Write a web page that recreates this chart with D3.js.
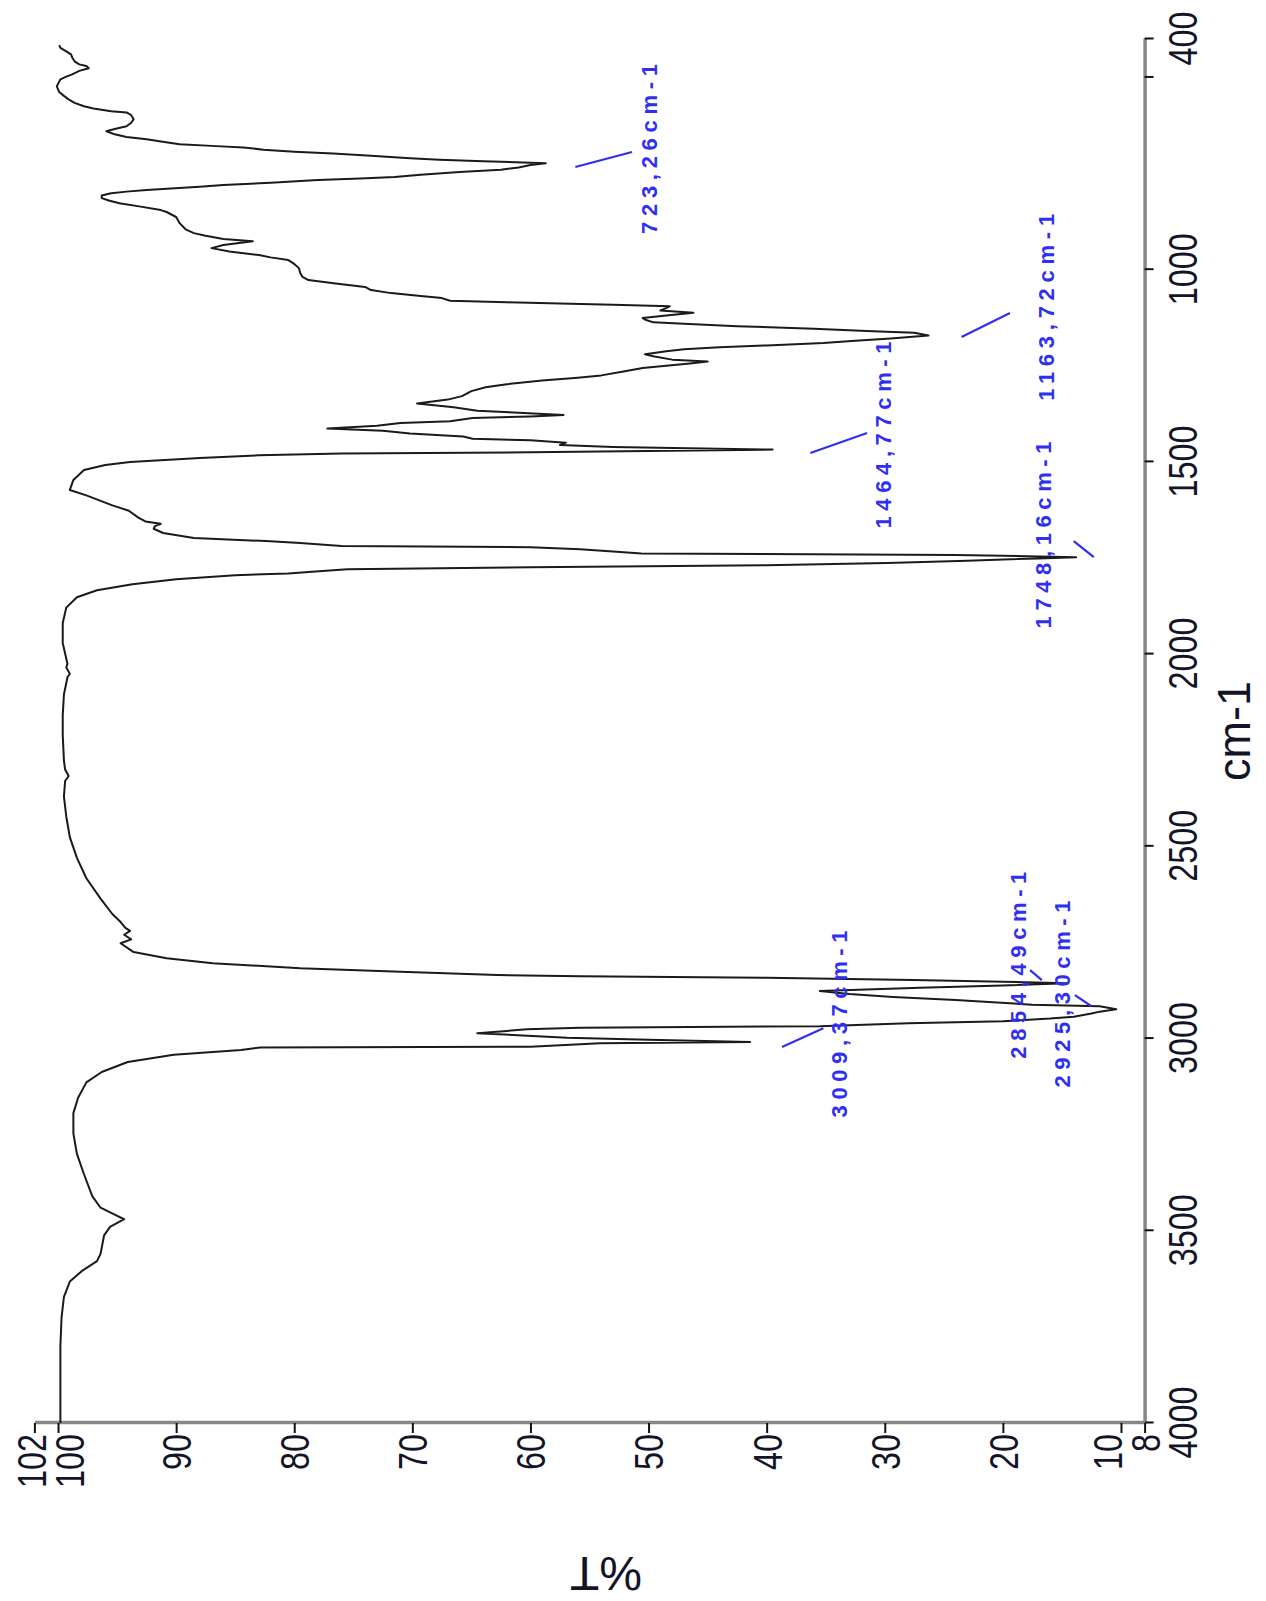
<!DOCTYPE html>
<html>
<head>
<meta charset="utf-8">
<script src="https://cdn.jsdelivr.net/npm/d3@7"></script>
<style>
  body { margin: 0; background: #fff; }
  svg { display: block; background: #fff; }
</style>
</head>
<body>
<svg id="chart" width="1266" height="1601"></svg>
<script>
// IR spectrum (wavenumber in cm-1, transmittance in %T)
const wavenumber = [
  4000, 3900, 3800, 3725, 3672, 3632, 3605, 3579, 3560, 3544, 3512, 3490, 3470, 3458, 3440, 3410,
  3353, 3300, 3247, 3194, 3154, 3114, 3087, 3061, 3042, 3030, 3023, 3021, 3012, 3009, 3003, 2998,
  2986, 2976, 2972, 2968, 2960, 2955, 2948, 2943, 2935, 2930, 2924, 2916, 2912, 2900, 2892, 2884,
  2876, 2868, 2862, 2856, 2852, 2848, 2842, 2838, 2835, 2826, 2817, 2804, 2791, 2775, 2752, 2742,
  2730, 2720, 2712, 2697, 2676, 2636, 2583, 2530, 2476, 2423, 2370, 2330, 2317, 2300, 2277, 2211,
  2158, 2105, 2060, 2051, 2035, 2025, 1972, 1919, 1879, 1852, 1834, 1818, 1805, 1795, 1790, 1786,
  1779, 1774, 1769, 1763, 1757, 1751, 1748, 1742, 1738, 1733, 1727, 1722, 1719, 1711, 1706, 1698,
  1685, 1674, 1667, 1661, 1655, 1645, 1627, 1613, 1587, 1573, 1547, 1521, 1508, 1500, 1490, 1483,
  1478, 1475, 1468, 1461, 1456, 1450, 1444, 1440, 1434, 1426, 1419, 1413, 1406, 1399, 1394, 1386,
  1382, 1378, 1372, 1367, 1358, 1348, 1338, 1329, 1316, 1306, 1298, 1288, 1281, 1275, 1264, 1256,
  1250, 1244, 1239, 1234, 1226, 1220, 1212, 1207, 1202, 1197, 1191, 1185, 1179, 1171, 1164, 1160,
  1154, 1147, 1141, 1137, 1131, 1126, 1119, 1112, 1106, 1100, 1095, 1091, 1088, 1085, 1081, 1074,
  1068, 1061, 1053, 1045, 1036, 1027, 1019, 1008, 996, 985, 975, 968, 962, 953, 944, 936,
  930, 926, 920, 912, 905, 895, 879, 863, 850, 845, 836, 827, 820, 814, 807, 801,
  797, 793, 788, 784, 780, 774, 767, 763, 759, 753, 746, 740, 734, 728, 723, 718,
  714, 710, 704, 698, 693, 688, 682, 678, 674, 668, 661, 655, 648, 640, 634, 627,
  618, 609, 598, 591, 588, 581, 575, 566, 557, 548, 538, 523, 505, 498, 492, 483,
  476, 470, 466, 458, 448, 440, 432, 423, 416
];
const transmittance = [
  99.8, 99.8, 99.8, 99.7, 99.5, 99.0, 98.0, 96.7, 96.4, 96.3, 96.1, 95.6, 94.4, 95.2, 96.4, 97.1,
  97.8, 98.4, 98.7, 98.7, 98.3, 97.6, 96.3, 94.1, 90.2, 84.5, 82.9, 60.0, 54.1, 41.4, 50.0, 56.9,
  64.5, 60.3, 55.8, 35.5, 28.0, 20.0, 16.0, 14.0, 12.5, 11.8, 10.4, 11.8, 17.5, 24.0, 29.3, 33.0,
  35.5, 27.0, 20.0, 14.6, 20.0, 27.6, 40.0, 55.8, 62.8, 71.0, 79.5, 86.9, 90.8, 93.6, 94.7, 93.8,
  94.4, 93.9, 94.3, 94.7, 95.4, 96.4, 97.6, 98.4, 99.0, 99.3, 99.5, 99.4, 99.1, 99.4, 99.5, 99.6,
  99.6, 99.5, 99.2, 99.0, 99.3, 99.2, 99.6, 99.6, 99.3, 98.4, 96.7, 93.7, 90.0, 85.0, 80.5, 78.5,
  75.5, 60.0, 40.0, 29.8, 23.0, 17.0, 13.8, 24.0, 50.6, 53.0, 55.8, 60.0, 76.0, 79.5, 82.4, 88.5,
  91.1, 91.9, 91.8, 91.3, 92.6, 93.2, 94.0, 95.4, 97.6, 99.0, 98.7, 97.8, 96.0, 93.9, 88.0, 83.0,
  76.0, 60.0, 39.5, 53.0, 57.5, 57.0, 60.0, 64.9, 65.7, 70.2, 72.5, 77.2, 73.0, 71.0, 66.8, 64.9,
  60.0, 57.2, 61.0, 64.5, 66.5, 69.6, 67.0, 65.8, 65.0, 63.8, 62.0, 59.0, 56.0, 54.0, 52.0, 50.5,
  48.5, 46.5, 45.0, 48.0, 49.5, 50.3, 48.5, 47.0, 44.0, 40.0, 35.2, 32.5, 29.5, 26.3, 27.5, 31.0,
  36.0, 42.5, 47.0, 49.6, 50.2, 50.5, 48.5, 46.2, 49.0, 48.5, 48.2, 53.0, 57.5, 62.0, 66.8, 67.5,
  69.5, 71.8, 73.5, 74.0, 76.5, 78.8, 79.3, 79.5, 79.6, 80.0, 80.5, 82.0, 83.0, 85.5, 87.0, 86.0,
  84.5, 83.5, 86.0, 87.5, 88.5, 89.2, 89.7, 90.0, 90.8, 91.3, 93.0, 94.8, 95.7, 96.3, 96.3, 95.5,
  94.2, 92.5, 90.1, 88.0, 86.0, 82.0, 78.0, 74.4, 71.5, 69.3, 66.0, 62.5, 61.0, 60.0, 58.7, 64.0,
  67.7, 70.2, 73.5, 76.7, 80.0, 82.6, 84.3, 87.0, 89.7, 91.0, 92.5, 94.2, 95.2, 95.9, 95.2, 94.2,
  93.8, 93.6, 93.8, 94.2, 95.5, 97.0, 97.8, 98.6, 99.1, 99.5, 99.9, 100.1, 99.8, 99.3, 98.8, 98.2,
  97.4, 97.6, 98.2, 98.6, 98.8, 98.9, 99.3, 99.8, 99.9
];

// axes
const wnTicks = [4000, 3500, 3000, 2500, 2000, 1500, 1000, 500, 400];
const wnTickLabels = ["4000", "3500", "3000", "2500", "2000", "1500", "1000", "", "400"];
const tTicks = [102, 100, 90, 80, 70, 60, 50, 40, 30, 20, 10, 8];

// peak labels (label centre along wavenumber, label baseline in %T, leader ends)
const peakText = ["723,26cm-1", "1163,72cm-1", "1464,77cm-1", "1748,16cm-1", "2854,49cm-1", "2925,30cm-1", "3009,37cm-1"];
const peakTextWn = [686, 1098, 1430, 1690, 2809, 2884, 2962];
const peakTextT = [49.3, 15.7, 29.5, 15.9, 18.0, 14.3, 33.2];
const leaderStart = [[733, 56.2], [1175, 23.5], [1477, 36.3], [1706, 14.0], [2822, 17.7], [2887, 13.9], [3022, 38.7]];
const leaderEnd = [[694, 51.4], [1113, 19.4], [1425, 31.5], [1748, 12.3], [2848, 16.7], [2916, 12.5], [2973, 35.2]];

const spectrum = wavenumber.map((w, i) => [w, transmittance[i]]);

const svg = d3.select("#chart");
const W = 1601, H = 1266;   // unrotated frame: wavenumber runs along W, %T along H

// the whole plot is drawn turned a quarter turn anticlockwise
const plot = svg.append("g")
  .attr("transform", `translate(0,${W}) rotate(-90)`);

const x = d3.scaleLinear().domain([4000, 400]).range([178, 1562]);
const y = d3.scaleLinear().domain([102, 8]).range([34.4, 1144.6]);

const labelFont = "'Liberation Sans', Arial, Helvetica, sans-serif";

// wavenumber axis
const xAxis = plot.append("g")
  .attr("transform", `translate(0,${y(8)})`)
  .call(d3.axisBottom(x)
    .tickValues(wnTicks)
    .tickSize(9)
    .tickSizeOuter(0)
    .tickFormat((d, i) => wnTickLabels[i]));

// %T axis
const tNudge = { 102: -3, 100: 11, 10: -14 };
const yAxis = plot.append("g")
  .attr("transform", `translate(${x(4000)},0)`)
  .call(d3.axisLeft(y)
    .tickValues(tTicks)
    .tickSize(10)
    .tickSizeOuter(0)
    .tickFormat(d3.format("d")));

[xAxis, yAxis].forEach(g => {
  g.select(".domain").attr("stroke", "#878787").attr("stroke-width", 3.5);
  g.selectAll(".tick line").attr("stroke", "#111").attr("stroke-width", 2);
  g.selectAll(".tick text")
    .attr("fill", "#141428")
    .style("font-family", labelFont)
    .style("font-size", "40px")
    .attr("lengthAdjust", "spacingAndGlyphs")
    .attr("textLength", function () { return this.textContent.length * 18; });
});

xAxis.selectAll(".tick text").attr("y", 52).attr("dy", null);
yAxis.selectAll(".tick text")
  .attr("x", -11)
  .attr("dy", "0.36em")
  .attr("y", d => tNudge[d] || 0);

// axis titles
plot.append("text")
  .attr("x", x(2200))
  .attr("y", 1250)
  .attr("text-anchor", "middle")
  .attr("textLength", 100)
  .attr("lengthAdjust", "spacingAndGlyphs")
  .style("font-family", labelFont)
  .style("font-size", "46px")
  .attr("fill", "#141428")
  .text("cm-1");

plot.append("text")
  .attr("transform", `translate(44,${y(53.6)}) rotate(-90)`)
  .attr("text-anchor", "middle")
  .style("font-family", labelFont)
  .style("font-size", "48px")
  .attr("fill", "#141428")
  .text("%T");

// spectrum
const line = d3.line()
  .x(d => x(d[0]))
  .y(d => y(d[1]));

plot.append("path")
  .datum(spectrum)
  .attr("fill", "none")
  .attr("stroke", "#1a1a1a")
  .attr("stroke-width", 2)
  .attr("stroke-linejoin", "round")
  .attr("d", line);

// peak annotations
const blue = "#2f2ff2";
const ann = plot.append("g");

ann.selectAll("line")
  .data(peakText)
  .join("line")
  .attr("x1", (d, i) => x(leaderStart[i][0]))
  .attr("y1", (d, i) => y(leaderStart[i][1]))
  .attr("x2", (d, i) => x(leaderEnd[i][0]))
  .attr("y2", (d, i) => y(leaderEnd[i][1]))
  .attr("stroke", blue)
  .attr("stroke-width", 2.2);

ann.selectAll("text")
  .data(peakText)
  .join("text")
  .attr("x", (d, i) => x(peakTextWn[i]))
  .attr("y", (d, i) => y(peakTextT[i]))
  .attr("text-anchor", "middle")
  .attr("textLength", d => d.length * 17)
  .attr("lengthAdjust", "spacing")
  .style("font-family", labelFont)
  .style("font-size", "22px")
  .style("font-weight", "bold")
  .attr("fill", blue)
  .text(d => d);
</script>
</body>
</html>
